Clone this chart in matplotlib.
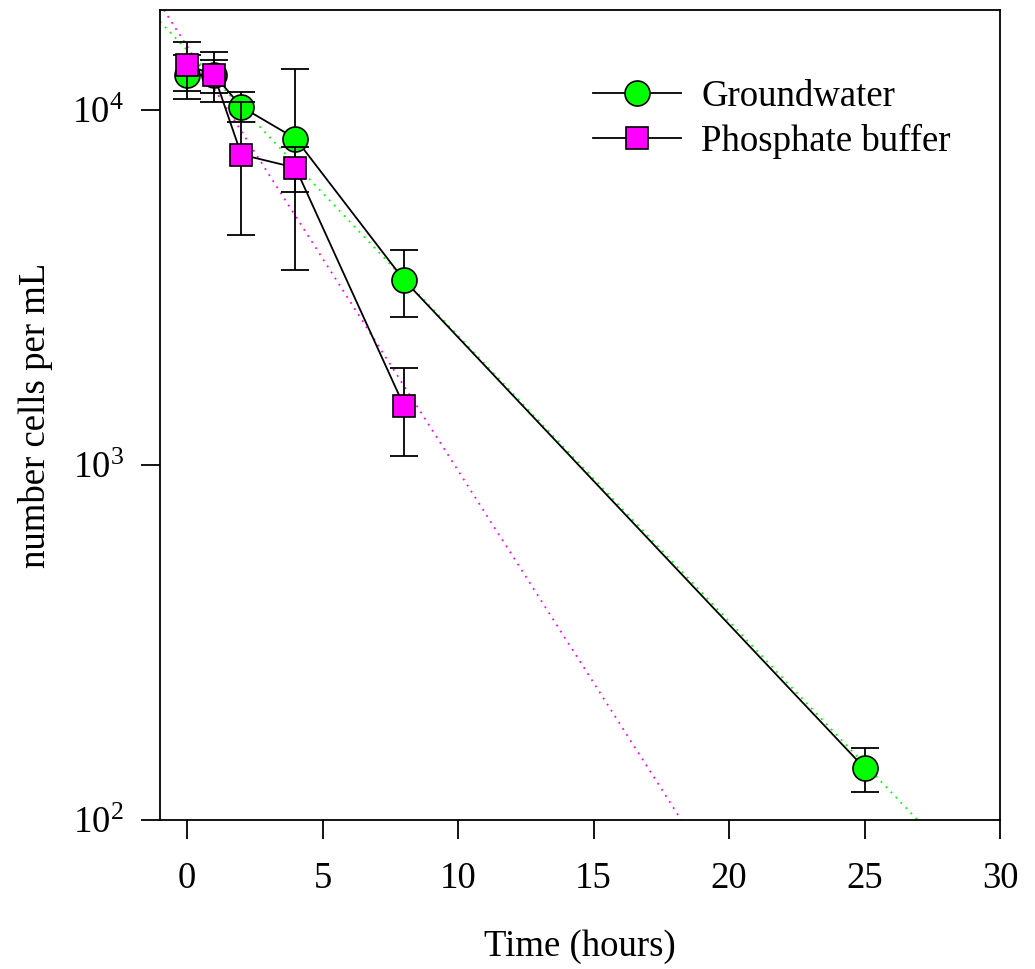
import numpy as np
import matplotlib
matplotlib.use("Agg")
import matplotlib.pyplot as plt
from matplotlib.ticker import LogLocator, NullLocator

# ---- data ----
t_gw = [0, 1, 2, 4, 8, 25]
gw = [12500, 12550, 10200, 8300, 3320, 140]
gw_sd = [1800, 2015, 990, 4750, 710, 20]

t_pb = [0, 1, 2, 4, 8]
pb = [13400, 12500, 7480, 6870, 1468]
pb_sd = [2100, 1330, 3050, 990, 408]

labels = ["Groundwater", "Phosphate buffer"]
x_ticks = [0, 5, 10, 15, 20, 25, 30]

plt.rcParams['font.family'] = ['Liberation Serif', 'DejaVu Serif']
plt.rcParams['mathtext.fontset'] = 'custom'
plt.rcParams['mathtext.rm'] = 'Liberation Serif'

fig = plt.figure(figsize=(10.35, 9.69), dpi=100)
ax = fig.add_axes([160/1035, 1-820/969, 840/1035, 810/969])
ax.set_yscale('log')
ax.set_xlim(-1, 30)
ax.set_ylim(100, 1.91e4)

# regression fit lines (log-linear) computed from the data
xx = np.array([-1.0, 30.0])
for t, v, c in [(t_gw, gw, '#00ff00'), (t_pb, pb, '#ff00ff')]:
    k, b = np.polyfit(np.array(t, float), np.log10(v), 1)
    ax.plot(xx, 10 ** (k * xx + b), linestyle=(0, (1, 3)), color=c, lw=1.3, zorder=1)

# groundwater
ax.errorbar(t_gw, gw, yerr=gw_sd, fmt='none', ecolor='black', elinewidth=1.3,
            capsize=10, capthick=1.3, zorder=2)
ax.plot(t_gw, gw, '-', color='black', lw=1.3, marker='o', ms=18,
        mfc='#00ff00', mec='black', mew=1.2, label=labels[0], zorder=3)
# phosphate buffer
ax.errorbar(t_pb, pb, yerr=pb_sd, fmt='none', ecolor='black', elinewidth=1.3,
            capsize=10, capthick=1.3, zorder=4)
ax.plot(t_pb, pb, '-', color='black', lw=1.3, marker='s', ms=16,
        mfc='#ff00ff', mec='black', mew=1.2, label=labels[1], zorder=5)

ax.set_xticks(x_ticks)
ax.yaxis.set_major_locator(LogLocator(base=10, numticks=10))
ax.yaxis.set_minor_locator(NullLocator())
ax.tick_params(axis='both', which='major', direction='out', length=14, width=1.3,
               labelsize=26.5, pad=12)
ax.tick_params(axis='x', pad=16)
for s in ax.spines.values():
    s.set_linewidth(1.3)

ax.set_xlabel("Time (hours)", fontsize=26.5, labelpad=24)
ax.set_ylabel("number cells per mL", fontsize=26.5, labelpad=14)

leg = ax.legend(loc='upper left', bbox_to_anchor=(0.515, 0.914), frameon=False,
                fontsize=26.5, handlelength=2.4, handletextpad=0.55,
                labelspacing=0.25, borderpad=0, borderaxespad=0)

fig.savefig("out.png", dpi=100)
